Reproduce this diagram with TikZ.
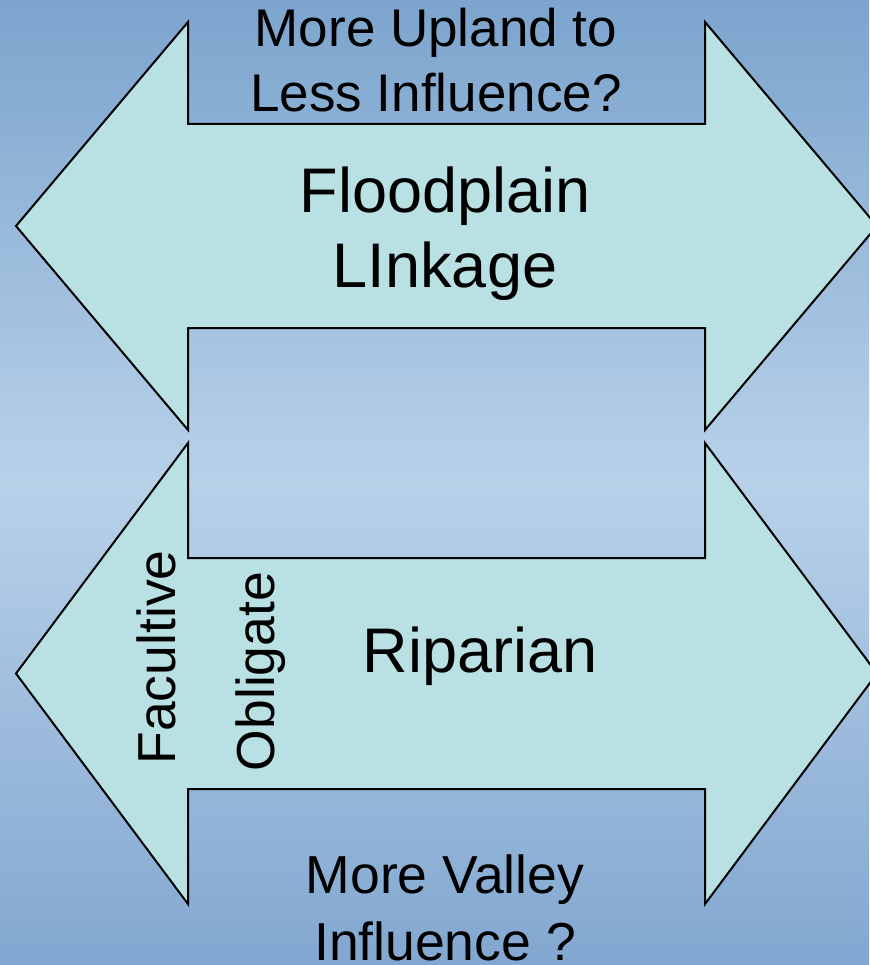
\documentclass[tikz,border=0pt]{standalone}
\usepackage{fontspec}
\setmainfont{Liberation Sans}
\usepackage{tkz-euclide}
\definecolor{arrowfill}{RGB}{185,224,227}
\definecolor{skytop}{RGB}{124,164,205}
\definecolor{skymid}{RGB}{184,209,233}
\definecolor{skybot}{RGB}{130,167,208}

\begin{document}
\begin{tikzpicture}[x=1pt,y=-1pt,
    arrowbox/.style={draw=black,line width=2pt,fill=arrowfill,line join=miter},
    caption/.style={inner sep=0pt,align=center,text=black}]
                    % background
                    \tkzDefPoints{0/0/O,869/965/Z}
                    \path[use as bounding box,top color=skytop,bottom color=skybot,middle color=skymid] (O) rectangle (Z);
                    % upper double arrow
                    \tkzDefPoints{16/226/A,188/22/B,188/124/C,705/124/D,705/22/E,877/226/F,705/430/G,705/328/H,188/328/I,188/430/J}
                    \draw[arrowbox] (A)--(B)--(C)--(D)--(E)--(F)--(G)--(H)--(I)--(J)--cycle;
                    % lower double arrow
                    \tkzDefPoints{16/673.5/K,188/443/L,188/558/M,705/558/N,705/443/P,877/673.5/Q,705/904/R,705/789/S,188/789/T,188/904/U}
                    \draw[arrowbox] (K)--(L)--(M)--(N)--(P)--(Q)--(R)--(S)--(T)--(U)--cycle;
                    % texts
                    \node[caption,font=\fontsize{53}{65}\selectfont] (upland) at (436,60.2) {More Upland to\\Less Influence?};
                    \node[caption,font=\fontsize{63}{75}\selectfont] (linkage) at (445,234.2) {Floodplain\\LInkage};
                    \node[caption,anchor=base,font=\fontsize{63}{75}\selectfont] (riparian) at (480,672) {Riparian};
                    \node[caption,anchor=base,rotate=90,font=\fontsize{53.5}{64}\selectfont] (facultive) at (175,657.5) {Facultive};
                    \node[caption,anchor=base,rotate=90,font=\fontsize{53.5}{64}\selectfont] (obligate) at (274,671.5) {Obligate};
                    \node[caption,font=\fontsize{53.5}{67}\selectfont] (valley) at (445,908.2) {More Valley\\Influence ?};
                \end{tikzpicture}
\end{document}
